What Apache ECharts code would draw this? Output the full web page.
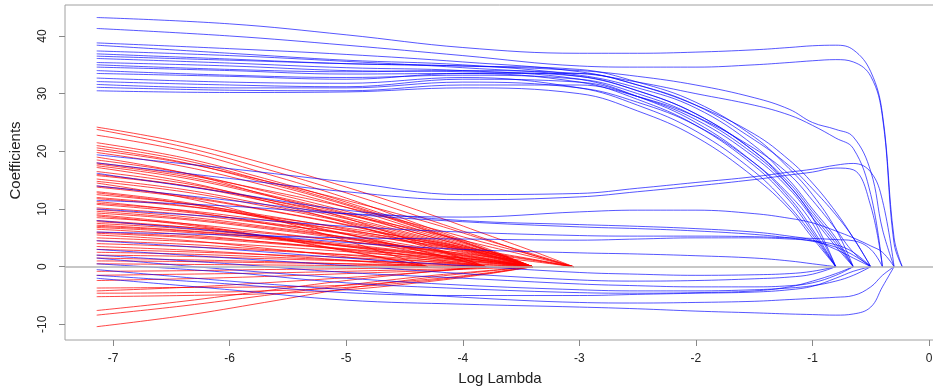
<!DOCTYPE html>
<html><head><meta charset="utf-8">
<script src="https://cdn.jsdelivr.net/npm/echarts@6/dist/echarts.min.js"></script>
<style>html,body{margin:0;padding:0;background:#fff}#c{width:933px;height:386px}</style>
</head><body><div id="c"></div>
<script>
// ---------- data ----------
const xTicks = [-7, -6, -5, -4, -3, -2, -1, 0];
const yTicks = [-10, 0, 10, 20, 30, 40];

// log-lambda positions at which the blue (late-dropping) paths are read
const blueX = [-7.14, -6, -5, -4, -3, -2.5, -2, -1.5, -1.2, -1, -0.8, -0.65, -0.5, -0.4, -0.3, -0.23];
// top cluster
const blueTop = [
  [43.2, 42.1, 40.2, 38.0, 37.0, 37.0, 37.2, 37.6, 38.0, 38.3, 38.4, 37.6, 33.8, 26.5, 5, 0],
  [41.3, 40.0, 38.4, 36.6, 34.8, 34.6, 34.6, 35.0, 35.4, 35.7, 35.9, 35.5, 33.0, 26.0, 4, 0],
  [38.8, 37.8, 36.8, 35.5, 33.8, 31.5, 28.0, 23.0, 18.5, 14.5, 9.5, 5.0, 0],
  [38.4, 37.0, 35.8, 35.0, 33.2, 31.0, 27.5, 21.0, 15.0, 10.0, 5.0, 0],
  [37.4, 36.6, 35.6, 34.5, 33.0, 30.5, 26.5, 20.0, 14.0, 8.5, 0],
  [36.9, 36.0, 35.2, 34.8, 34.2, 32.0, 28.5, 22.5, 17.0, 12.5, 6.5, 0],
  [36.5, 35.8, 35.2, 34.8, 34.0, 33.0, 31.5, 29.3, 27.3, 25.0, 23.8, 22.5, 16.5, 6.5, 0],
  [36.1, 35.3, 34.5, 34.0, 32.5, 29.5, 25.0, 18.0, 12.0, 6.5, 0],
  [35.4, 34.8, 34.0, 33.8, 33.0, 30.5, 26.5, 20.0, 14.5, 9.5, 4.5, 0],
  [35.0, 34.2, 33.8, 34.0, 33.5, 32.0, 30.0, 28.0, 26.3, 24.5, 22.3, 20.5, 12.5, 0],
  [34.6, 34.0, 33.4, 33.5, 32.0, 29.0, 24.5, 17.5, 11.5, 6.0, 0],
  [34.0, 33.2, 32.8, 33.2, 32.5, 30.0, 26.0, 19.5, 14.0, 9.0, 4.0, 0],
  [33.5, 33.0, 32.5, 33.5, 33.5, 31.5, 28.0, 22.0, 17.5, 13.5, 9.0, 5.0, 0],
  [32.7, 32.0, 31.8, 32.8, 31.0, 28.0, 23.5, 16.5, 10.5, 5.5, 0],
  [32.1, 31.5, 31.2, 32.5, 32.0, 29.5, 25.5, 19.0, 13.5, 8.5, 3.5, 0],
  [31.6, 31.0, 31.0, 32.0, 31.0, 28.5, 24.5, 18.0, 12.5, 7.5, 0],
  [31.1, 30.6, 30.5, 31.5, 31.5, 29.5, 26.0, 20.5, 16.0, 11.5, 6.5, 2.5, 0],
  [30.5, 30.2, 30.3, 31.0, 30.0, 27.0, 22.5, 15.5, 10.0, 5.0, 0]
];
// middle paths
const blueMid = [
  [19.4, 17.0, 14.7, 12.5, 12.7, 13.6, 14.6, 15.6, 16.4, 16.9, 17.6, 17.9, 16.4, 11.5, 0],
  [18.0, 15.3, 13.0, 11.6, 12.1, 13.0, 14.0, 15.1, 15.9, 16.4, 17.1, 16.8, 10.5, 0],
  [11.5, 10.5, 9.2, 8.6, 9.5, 9.8, 9.8, 9.2, 8.4, 7.6, 6.2, 5.0, 3.6, 2.5, 0],
  [10.0, 8.5, 7.0, 6.0, 5.4, 5.3, 5.3, 5.2, 5.0, 4.9, 4.7, 4.5, 3.0, 0],
  [14.0, 11.5, 9.2, 7.8, 6.9, 6.6, 6.2, 5.6, 5.0, 4.4, 3.4, 2.0, 0],
  [6.0, 5.5, 5.0, 4.8, 4.6, 4.8, 5.0, 5.0, 4.8, 4.5, 3.8, 2.5, 0],
  [8.0, 6.0, 4.2, 3.0, 2.4, 2.2, 1.9, 1.5, 1.0, 0.5, 0],
  [16.2, 12.8, 9.8, 8.0, 7.3, 7.0, 6.6, 6.0, 5.3, 4.6, 3.0, 1.5, 0]
];
// negative paths
const blueNeg = [
  [-2.0, -4.0, -5.8, -6.5, -7.0, -7.3, -7.7, -8.0, -8.2, -8.3, -8.4, -8.2, -7.0, -3.5, 0],
  [-0.5, -2.5, -4.0, -5.3, -6.2, -6.3, -6.2, -6.0, -5.7, -5.5, -5.3, -5.0, -3.5, -1.5, 0],
  [1.5, -0.5, -2.0, -3.2, -4.0, -4.2, -4.2, -4.0, -3.7, -3.3, -2.5, -1.5, 0],
  [3.0, 1.5, 0.2, -1.2, -2.3, -2.5, -2.4, -2.1, -1.8, -1.3, 0],
  [4.5, 3.0, 1.5, 0.2, -1.0, -1.3, -1.5, -1.4, -1.2, -0.8, 0],
  [0.5, -1.0, -2.8, -3.8, -4.5, -4.6, -4.5, -4.2, -3.5, -2.5, -1.2, 0],
  [-1.5, -3.0, -4.5, -5.0, -5.0, -4.8, -4.6, -4.4, -4.0, -3.4, -2.0, -0.8, 0],
  [2.0, 0.5, -1.0, -2.0, -3.0, -3.3, -3.5, -3.5, -3.3, -2.8, -1.5, 0]
];

// log-lambda positions at which the red (early-dropping) paths are read
const redX = [-7.14, -6.4, -5.7, -5, -4.3, -3.8, -3.4, -3.05];
const redPos = [
  [24.2, 21.5, 17.9, 13.8, 9.2, 5.6, 2.7, 0],
  [23.8, 20.8, 17.0, 12.8, 8.2, 4.8, 2.0, 0],
  [22.8, 20.1, 16.2, 11.9, 6.8, 3.2, 0],
  [21.5, 18.9, 15.3, 11.2, 6.5, 3.0, 0],
  [21.0, 18.5, 14.9, 10.9, 6.3, 2.9, 0],
  [20.6, 18.1, 14.6, 10.7, 6.2, 2.9, 0],
  [20.2, 18.0, 14.9, 11.5, 7.7, 4.6, 2.2, 0],
  [19.8, 17.4, 14.1, 10.3, 5.9, 2.8, 0],
  [19.0, 16.3, 12.5, 8.4, 3.6, 0],
  [18.5, 16.3, 13.1, 9.6, 5.6, 2.6, 0],
  [18.0, 16.0, 13.3, 10.3, 6.8, 4.1, 2.0, 0],
  [17.8, 15.7, 12.6, 9.3, 5.3, 2.5, 0],
  [17.5, 15.4, 12.4, 9.1, 5.3, 2.5, 0],
  [17.2, 14.8, 11.4, 7.6, 3.3, 0],
  [16.5, 14.5, 11.7, 8.6, 5.0, 2.3, 0],
  [16.0, 14.1, 11.4, 8.3, 4.8, 2.2, 0],
  [15.8, 14.1, 11.7, 9.0, 6.0, 3.6, 1.7, 0],
  [15.2, 13.4, 10.8, 7.9, 4.6, 2.1, 0],
  [14.8, 13.0, 10.5, 7.7, 4.4, 2.1, 0],
  [14.5, 12.0, 8.6, 4.5, 0],
  [14.0, 12.3, 9.9, 7.3, 4.2, 2.0, 0],
  [13.8, 12.1, 9.8, 7.2, 4.1, 1.9, 0],
  [13.0, 11.2, 8.6, 5.7, 2.5, 0],
  [12.8, 11.0, 8.4, 5.6, 2.4, 0],
  [12.5, 11.0, 8.9, 6.5, 3.8, 1.8, 0],
  [12.0, 10.6, 8.5, 6.2, 3.6, 1.7, 0],
  [11.8, 10.5, 8.7, 6.7, 4.5, 2.7, 1.3, 0],
  [11.3, 9.7, 7.5, 5.0, 2.1, 0],
  [11.0, 9.8, 8.1, 6.3, 4.2, 2.5, 1.2, 0],
  [10.8, 9.5, 7.7, 5.6, 3.2, 1.5, 0],
  [10.2, 9.1, 7.5, 5.8, 3.9, 2.3, 1.1, 0],
  [9.9, 8.7, 7.0, 5.1, 3.0, 1.4, 0],
  [9.6, 8.4, 6.8, 5.0, 2.9, 1.3, 0],
  [9.3, 8.2, 6.6, 4.8, 2.8, 1.3, 0],
  [9.0, 7.5, 5.3, 2.8, 0],
  [8.8, 7.3, 5.2, 2.7, 0],
  [8.5, 7.5, 6.0, 4.4, 2.6, 1.2, 0],
  [8.0, 6.9, 5.3, 3.5, 1.5, 0],
  [7.8, 6.9, 5.8, 4.4, 3.0, 1.8, 0.9, 0],
  [7.5, 6.6, 5.3, 3.9, 2.3, 1.1, 0],
  [7.2, 6.3, 5.1, 3.7, 2.2, 1.0, 0],
  [7.0, 6.2, 5.0, 3.6, 2.1, 1.0, 0],
  [6.8, 6.0, 4.8, 3.5, 2.0, 1.0, 0],
  [6.5, 5.6, 4.3, 2.9, 1.2, 0],
  [6.0, 5.3, 4.3, 3.1, 1.8, 0.8, 0],
  [5.8, 5.1, 4.1, 3.0, 1.7, 0.8, 0],
  [5.5, 4.6, 3.2, 1.7, 0],
  [5.0, 4.4, 3.6, 2.6, 1.5, 0.7, 0],
  [4.5, 3.9, 3.0, 2.0, 0.9, 0],
  [4.0, 3.5, 2.8, 2.1, 1.2, 0.6, 0],
  [3.5, 2.9, 2.1, 1.1, 0],
  [3.0, 2.6, 2.1, 1.6, 0.9, 0.4, 0],
  [2.5, 2.2, 1.7, 1.1, 0.5, 0],
  [2.0, 1.8, 1.4, 1.0, 0.6, 0.3, 0],
  [1.5, 1.2, 0.9, 0.5, 0],
  [1.0, 0.9, 0.7, 0.5, 0.3, 0.1, 0],
  [0.5, 0.4, 0.3, 0.2, 0.1, 0]
];
const redNeg = [
  [-0.8, -0.7, -0.5, -0.35, -0.15, 0],
  [-1.5, -1.3, -1.1, -0.8, -0.45, -0.2, 0],
  [-2.4, -2.1, -1.7, -1.2, -0.7, -0.3, 0],
  [-3.7, -3.6, -3.5, -3.2, -2.2, -1.1, 0],
  [-4.2, -3.6, -2.8, -1.9, -0.9, 0],
  [-4.6, -4.5, -4.2, -3.6, -2.4, -1.2, 0],
  [-5.2, -5.0, -4.7, -4.0, -2.6, -1.3, 0],
  [-7.6, -6.0, -4.2, -2.4, -0.9, 0],
  [-8.4, -6.8, -5.0, -3.2, -1.6, -0.7, 0],
  [-10.4, -8.5, -6.2, -3.8, -1.9, -0.8, 0]
];

// ---------- chart ----------
const BLUE = 'rgba(0,0,255,0.66)';
const RED = 'rgba(255,0,0,0.72)';
function path(xs, vals, color, z) {
  return {
    type: 'line', silent: true, animation: false, showSymbol: false, symbol: 'none',
    smooth: 0.4, z: z,
    lineStyle: { width: 1, color: color },
    data: vals.map((v, i) => [xs[i], v])
  };
}
const series = [];
redPos.concat(redNeg).forEach(v => series.push(path(redX, v, RED, 2)));
blueTop.concat(blueMid, blueNeg).forEach(v => series.push(path(blueX, v, BLUE, 3)));
series.push({
  type: 'line', data: [], silent: true, z: 10,
  markLine: { silent: true, symbol: 'none', animation: false, label: { show: false },
    lineStyle: { color: '#b4b4b4', width: 1.5, type: 'solid' },
    data: [{ yAxis: 0 }] }
});

const font = '"Liberation Sans", Arial, sans-serif';
const chart = echarts.init(document.getElementById('c'), null, { renderer: 'canvas' });
chart.setOption({
  animation: false,
  backgroundColor: '#fff',
  grid: { left: 65, top: 5, width: 870, height: 335, containLabel: false, outerBoundsMode: 'none',
    show: true, borderColor: '#a0a0a0', borderWidth: 1, backgroundColor: 'transparent' },
  xAxis: {
    type: 'value', min: -7.412, max: 0.051,
    name: 'Log Lambda', nameLocation: 'middle', nameGap: 31,
    nameTextStyle: { fontSize: 15, color: '#222', fontFamily: font },
    axisLine: { show: false, onZero: false },
    axisTick: { show: true, customValues: xTicks, length: 6, lineStyle: { color: '#888' } },
    axisLabel: { customValues: xTicks, color: '#222', fontSize: 12, fontFamily: font, margin: 13 },
    splitLine: { show: false }
  },
  yAxis: {
    type: 'value', min: -12.71, max: 45.37,
    name: 'Coefficients', nameLocation: 'middle', nameGap: 42,
    nameTextStyle: { fontSize: 15, color: '#222', fontFamily: font, padding: [0, 0, 0, 24] },
    axisLine: { show: false, onZero: false },
    axisTick: { show: true, customValues: yTicks, length: 6, lineStyle: { color: '#888' } },
    axisLabel: { customValues: yTicks, rotate: 90, color: '#222', fontSize: 12, fontFamily: font, margin: 16 },
    splitLine: { show: false }
  },
  series: series
});
</script>
</body></html>
